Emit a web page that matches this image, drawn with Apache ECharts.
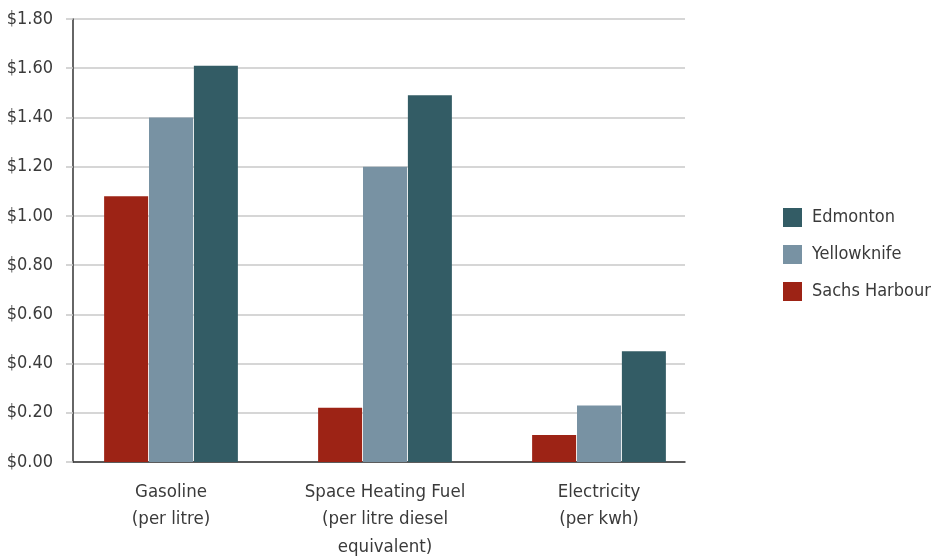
<!DOCTYPE html>
<html>
<head>
<meta charset="utf-8">
<script src="https://cdn.jsdelivr.net/npm/echarts@6/dist/echarts.min.js"></script>
<style>
  html, body { margin: 0; padding: 0; background: #fff; }
  #chart { width: 936px; height: 556px; }
</style>
</head>
<body>
<div id="chart"></div>
<script>
// Energy prices by location
const categories = [
  'Gasoline\n(per litre)',
  'Space Heating Fuel\n(per litre diesel\nequivalent)',
  'Electricity\n(per kwh)'
];
const sachsHarbour = [1.08, 0.22, 0.11];
const yellowknife = [1.40, 1.20, 0.23];
const edmonton = [1.61, 1.49, 0.45];
const yTicks = [0, 0.2, 0.4, 0.6, 0.8, 1.0, 1.2, 1.4, 1.6, 1.8];

const FONT = '"DejaVu Sans Condensed", "Liberation Sans Narrow", sans-serif';
const TEXT = '#3a3a3a';
const colors = { sachs: '#9d2315', yellow: '#7892a3', edm: '#335c65' };

const chart = echarts.init(document.getElementById('chart'));
chart.setOption({
  animation: false,
  textStyle: { fontFamily: FONT },
  legend: {
    orient: 'vertical',
    left: 778,
    top: 203,
    itemWidth: 19,
    itemHeight: 19,
    itemGap: 18,
    icon: 'rect',
    data: ['Edmonton', 'Yellowknife', 'Sachs Harbour'],
    textStyle: { fontFamily: FONT, fontSize: 18, color: TEXT, padding: [0, 0, 0, 5] }
  },
  grid: [
    // frame: axes and grid lines
    { left: 73, right: 251, top: 19, bottom: 94, outerBoundsMode: 'none', containLabel: false },
    // bars and category labels
    { left: 64, right: 230, top: 19, bottom: 94, outerBoundsMode: 'none', containLabel: false }
  ],
  xAxis: [
    {
      gridIndex: 0, type: 'category', data: categories,
      axisLine: { lineStyle: { color: '#333', width: 1.5 } },
      axisTick: { show: false }, axisLabel: { show: false }
    },
    {
      gridIndex: 1, type: 'category', data: categories,
      axisLine: { show: false }, axisTick: { show: false },
      axisLabel: { interval: 0, color: TEXT, fontSize: 18.5, lineHeight: 27.5, margin: 16, fontFamily: FONT }
    }
  ],
  yAxis: [
    {
      gridIndex: 0, type: 'value', min: 0, max: 1.8, interval: 0.2,
      axisLine: { show: true, lineStyle: { color: '#333', width: 1.5 } },
      axisTick: { show: true, length: 7, lineStyle: { color: '#c8c8c8', width: 1.5 } },
      splitLine: { lineStyle: { color: '#c8c8c8', width: 1.5 } },
      axisLabel: {
        color: TEXT, fontSize: 18, margin: 20, fontFamily: FONT,
        customValues: yTicks,
        formatter: v => '$' + v.toFixed(2)
      }
    },
    {
      gridIndex: 1, type: 'value', min: 0, max: 1.8, interval: 0.2,
      show: false, splitLine: { show: false }
    }
  ],
  series: [
    {
      name: 'Sachs Harbour', type: 'bar', xAxisIndex: 1, yAxisIndex: 1,
      data: sachsHarbour, barWidth: 44, barGap: '2%',
      itemStyle: { color: colors.sachs }
    },
    {
      name: 'Yellowknife', type: 'bar', xAxisIndex: 1, yAxisIndex: 1,
      data: yellowknife, barWidth: 44,
      itemStyle: { color: colors.yellow }
    },
    {
      name: 'Edmonton', type: 'bar', xAxisIndex: 1, yAxisIndex: 1,
      data: edmonton, barWidth: 44,
      itemStyle: { color: colors.edm }
    }
  ]
});
</script>
</body>
</html>
